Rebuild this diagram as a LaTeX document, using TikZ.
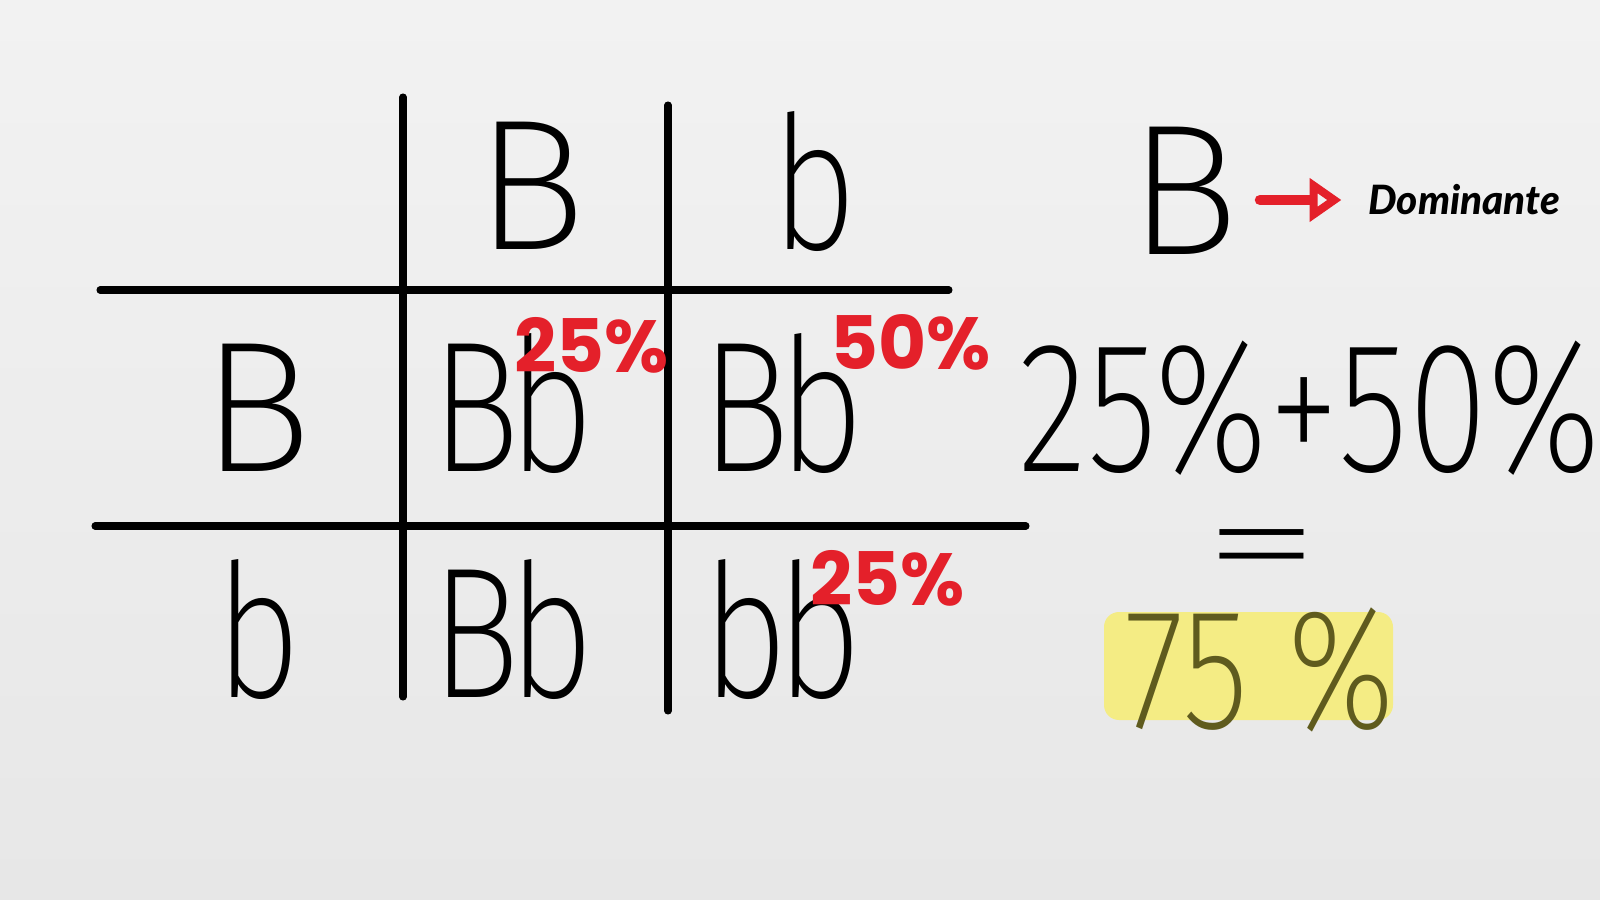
\documentclass[tikz,border=0pt]{standalone}
\usepackage{fontspec}
\usetikzlibrary{arrows.meta}
\newfontfamily\handfont{Fira Sans ExtraLight}
\newfontfamily\pctfont{Poppins}
\newfontfamily\labelfont{Lato}[BoldItalicFont={Lato Black Italic}]
\definecolor{paper}{HTML}{E7E7E7}
\definecolor{paperlight}{HTML}{F2F2F2}
\definecolor{pctred}{HTML}{E4202A}
\definecolor{marker}{HTML}{F4EC84}
\definecolor{olive}{HTML}{5F5B1E}
\tikzset{
  hand/.style={font=\handfont\fontsize{53}{60}\selectfont, inner sep=0pt, anchor=base},
  pct/.style={font=\pctfont\bfseries\fontsize{21}{24}\selectfont, text=pctred, inner sep=0pt},
  gridline/.style={line width=2pt, line cap=round},
}
\begin{document}
\begin{tikzpicture}[x=0.1mm,y=-0.1mm,line cap=round,line join=round]
  \useasboundingbox (0,0) rectangle (1600,900);
  \shade[top color=paperlight,bottom color=paper] (0,0) rectangle (1600,900);
  % grid
  \draw[gridline] (403,97) -- (403,697);
  \draw[gridline] (668,105) -- (668,711);
  \draw[gridline] (100,290) -- (949,290);
  \draw[gridline] (95,526) -- (1026,526);
  % alleles
  \node[hand] (hB) at (531,250) {B};
  \node[hand,xscale=0.8] (hb) at (814,250) {b};
  \node[hand] (rB) at (257,471) {B};
  \node[hand,xscale=0.8] (rb) at (258,697) {b};
  \node[hand,xscale=0.8] (BB1) at (513,471) {B\kern-1.5mm b};
  \node[hand,xscale=0.8] (BB2) at (783,471) {B\kern-1.5mm b};
  \node[hand,xscale=0.8] (BB3) at (513,697) {B\kern-1.5mm b};
  \node[hand,xscale=0.8] (bb) at (782,697) {b\kern-1.5mm b};
  % percentages
  \node[pct] (p1) at (592,345) {25\%};
  \node[pct] (p2) at (911,342) {50\%};
  \node[pct] (p3) at (888,578) {25\%};
  % legend
  \node[hand] (domB) at (1184,255) {B};
  \node[font=\labelfont\bfseries\itshape\fontsize{11.5}{13}\selectfont, inner sep=0pt] (dom) at (1464,200) {Dominante};
  \draw[pctred, line width=3pt, -{Triangle[open,length=3.2mm,width=4.2mm,line width=2.6pt]}, shorten <=2mm, shorten >=2.6mm]
    (domB.east |- dom.west) -- (dom.west);
  % sum
  \node[hand,xscale=0.78] (sum) at (1310,471) {25\%+50\%};
  \node[hand,xscale=1.3,yscale=0.75] (eq) at (1262,590) {=};
  \fill[marker,rounded corners=1.5mm] (1104,612) rectangle (1393,720);
  \node[hand,text=olive,xscale=0.8,font=\handfont\fontsize{49}{56}\selectfont] (res) at (1260,728) {75 \%};
\end{tikzpicture}
\end{document}
